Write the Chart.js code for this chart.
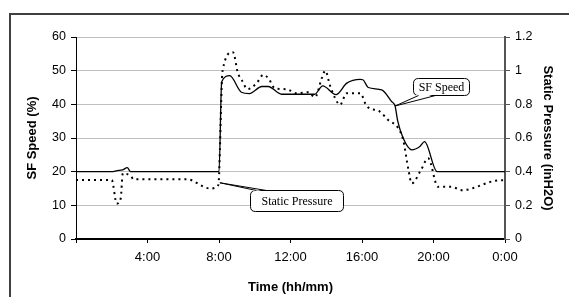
<!DOCTYPE html>
<html>
<head>
<meta charset="utf-8">
<script src="https://cdn.jsdelivr.net/npm/chart.js@4.4.1/dist/chart.umd.min.js"></script>
<style>
  html, body { margin: 0; padding: 0; background: #fff; }
  #wrap { position: relative; width: 569px; height: 297px; }
</style>
</head>
<body>
<div id="wrap"><canvas id="sf-chart"></canvas></div>
<script>
// hours since midnight
const speedHours = [0, 2.0, 2.3, 2.6, 2.87, 3.05, 8.0, 8.15, 8.6, 9.25, 9.7, 10.4, 10.75, 11.5, 13.35, 13.8, 14.55,
                    15.15, 15.9, 16.05, 16.35, 17.1, 17.66, 17.85, 18.0, 18.3, 18.78, 19.24, 19.5, 20.2, 24];
const speedValues = [20, 20, 20.3, 20.5, 21.2, 20, 20, 46.7, 48.5, 43.6, 43.2, 45.3, 45.3, 43.0, 43.0, 45.5, 42.9,
                     46.3, 47.4, 47.3, 45.0, 44.3, 40.8, 39.5, 35, 30, 26.5, 27.5, 28.9, 20, 20];

const pressureHours = [0, 2.0, 2.28, 2.5, 2.62, 3.1, 3.2, 6.2, 7.5, 7.96, 8.2, 8.78, 9.06, 9.27, 9.6, 10.1, 10.48,
                       10.76, 11.13, 11.78, 12.35, 13.0, 13.37, 13.75, 13.95, 14.2, 14.5, 14.77, 15.14, 15.9,
                       16.26, 17.0, 17.45, 18.03, 18.3, 18.6, 18.78, 19.3, 19.7, 20.25, 21.0, 21.6, 23.44, 24];
const pressureValues = [0.35, 0.35, 0.21, 0.24, 0.39, 0.37, 0.355, 0.355, 0.30, 0.32, 1.0, 1.11, 0.985, 0.945, 0.89,
                        0.925, 0.975, 0.955, 0.895, 0.89, 0.866, 0.872, 0.842, 0.955, 1.0, 0.915, 0.836, 0.797, 0.866,
                        0.866, 0.79, 0.757, 0.708, 0.658, 0.59, 0.41, 0.33, 0.41, 0.48, 0.31, 0.31, 0.29, 0.346, 0.35];

const hourTicks = [0, 4, 8, 12, 16, 20, 24];
const speedTicks = [0, 10, 20, 30, 40, 50, 60];
const pressureTicks = [0, 0.2, 0.4, 0.6, 0.8, 1, 1.2];

const toPoints = (xs, ys) => xs.map((h, i) => ({x: h, y: ys[i]}));

const sans = "'Liberation Sans', Arial, sans-serif";
const titleFont = {family: sans, size: 13, weight: 'bold'};

// callout boxes: anchor on the line, box centre, both in data units
const callouts = [
  {text: 'SF Speed', axis: 'y', anchor: [17.85, 39.5], box: [20.42, 45.2], w: 56, h: 17, side: 'bottom', base: [5, 22]},
  {text: 'Static Pressure', axis: 'y1', anchor: [8.05, 0.334], box: [12.36, 0.23], w: 93, h: 21, side: 'top', base: [6, 16]},
];

function roundRect(ctx, x, y, w, h, r) {
  ctx.beginPath();
  ctx.moveTo(x + r, y);
  ctx.lineTo(x + w - r, y);
  ctx.quadraticCurveTo(x + w, y, x + w, y + r);
  ctx.lineTo(x + w, y + h - r);
  ctx.quadraticCurveTo(x + w, y + h, x + w - r, y + h);
  ctx.lineTo(x + r, y + h);
  ctx.quadraticCurveTo(x, y + h, x, y + h - r);
  ctx.lineTo(x, y + r);
  ctx.quadraticCurveTo(x, y, x + r, y);
  ctx.closePath();
}

const extras = {
  id: 'extras',
  afterDraw(chart) {
    const ctx = chart.ctx;
    const xs = chart.scales.x;
    ctx.save();
    // outer frame (only top and left visible)
    ctx.strokeStyle = '#404040';
    ctx.lineWidth = 2;
    ctx.beginPath();
    ctx.moveTo(10, chart.height);
    ctx.lineTo(10, 14);
    ctx.lineTo(chart.width, 14);
    ctx.stroke();

    callouts.forEach(c => {
      const ys = chart.scales[c.axis];
      const ax = xs.getPixelForValue(c.anchor[0]);
      const ay = ys.getPixelForValue(c.anchor[1]);
      const cx = xs.getPixelForValue(c.box[0]);
      const cy = ys.getPixelForValue(c.box[1]);
      const bx = Math.round(cx - c.w / 2) + 0.5;
      const by = Math.round(cy - c.h / 2) + 0.5;
      const edgeY = c.side === 'bottom' ? by + c.h : by;
      const inset = c.side === 'bottom' ? -1.5 : 1.5;

      ctx.lineWidth = 1;
      ctx.strokeStyle = '#000';
      ctx.fillStyle = '#fff';
      roundRect(ctx, bx, by, c.w, c.h, 5);
      ctx.fill();
      ctx.stroke();

      // wedge pointer
      ctx.beginPath();
      ctx.moveTo(bx + c.base[0], edgeY + inset);
      ctx.lineTo(ax, ay);
      ctx.lineTo(bx + c.base[1], edgeY + inset);
      ctx.closePath();
      ctx.fill();
      ctx.beginPath();
      ctx.moveTo(bx + c.base[0], edgeY);
      ctx.lineTo(ax, ay);
      ctx.lineTo(bx + c.base[1], edgeY);
      ctx.stroke();

      ctx.fillStyle = '#000';
      ctx.font = "12px 'Liberation Serif', 'Times New Roman', serif";
      ctx.textAlign = 'center';
      ctx.textBaseline = 'middle';
      ctx.fillText(c.text, bx + c.w / 2, by + c.h / 2 + 1);
    });
    ctx.restore();
  }
};

const config = {
  type: 'line',
  data: {
    datasets: [{
      label: 'SF Speed',
      data: toPoints(speedHours, speedValues),
      yAxisID: 'y',
      borderColor: '#000',
      borderWidth: 1.3,
      pointRadius: 0,
      cubicInterpolationMode: 'monotone',
      order: 1
    }, {
      label: 'Static Pressure',
      data: toPoints(pressureHours, pressureValues),
      yAxisID: 'y1',
      borderColor: '#000',
      borderWidth: 2,
      borderDash: [2, 4],
      pointRadius: 0,
      cubicInterpolationMode: 'monotone',
      order: 2
    }]
  },
  options: {
    responsive: true,
    maintainAspectRatio: false,
    animation: false,
    layout: {padding: {top: 37, right: 0, bottom: 0, left: 0}},
    plugins: {legend: {display: false}, tooltip: {enabled: false}},
    scales: {
      x: {
        type: 'linear',
        min: 0, max: 24,
        afterBuildTicks: s => { s.ticks = hourTicks.map(v => ({value: v})); },
        afterFit: s => { s.height = 58; },
        ticks: {
          font: {family: sans, size: 13}, color: '#000', padding: 7, maxRotation: 0,
          callback: v => v === 0 ? '' : (v % 24) + ':00'
        },
        grid: {drawOnChartArea: false, tickLength: 4, tickColor: '#000'},
        border: {color: '#000', width: 2},
        title: {display: true, text: 'Time (hh/mm)', font: titleFont, color: '#000', padding: {top: 0, bottom: 2}}
      },
      y: {
        position: 'left',
        min: 0, max: 60,
        afterBuildTicks: s => { s.ticks = speedTicks.map(v => ({value: v})); },
        afterFit: s => { s.width = 76; },
        ticks: {font: {family: sans, size: 12.5}, color: '#000', padding: 5},
        grid: {color: '#c0c0c0', tickColor: '#000', tickLength: 5},
        border: {color: '#000', width: 1},
        title: {display: true, text: 'SF Speed (%)', font: titleFont, color: '#000', padding: {top: 25, bottom: 0}}
      },
      y1: {
        position: 'right',
        min: 0, max: 1.2,
        afterBuildTicks: s => { s.ticks = pressureTicks.map(v => ({value: v})); },
        afterFit: s => { s.width = 64; },
        ticks: {font: {family: sans, size: 12.5}, color: '#000', padding: 5, callback: v => String(Math.round(v * 10) / 10)},
        grid: {drawOnChartArea: false, tickColor: '#555', tickLength: 5},
        border: {color: '#555', width: 2},
        title: {display: true, text: 'Static Pressure (inH2O)', font: titleFont, color: '#000', padding: {top: 14, bottom: 0}}
      }
    }
  },
  plugins: [extras]
};

const myChart = new Chart(document.getElementById('sf-chart'), config);
</script>
</body>
</html>
